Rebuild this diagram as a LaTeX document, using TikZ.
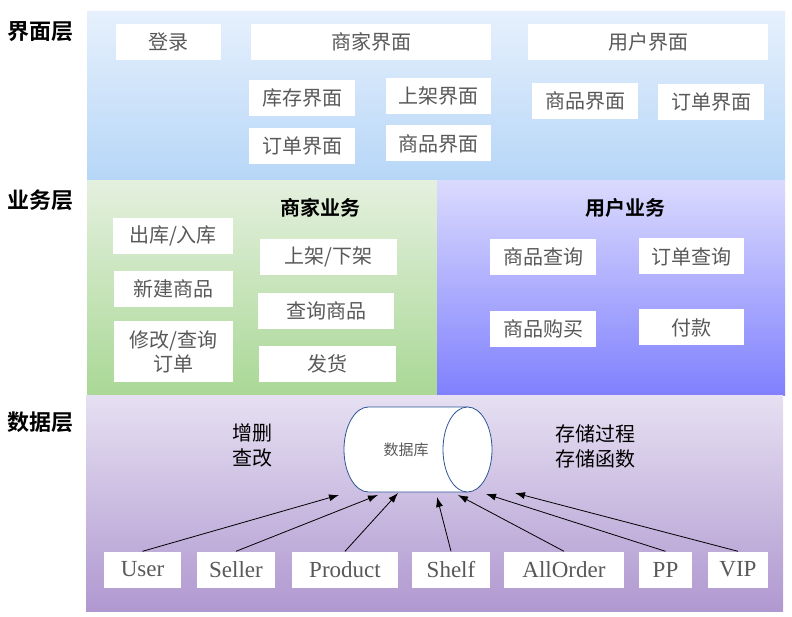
\documentclass[tikz,border=0pt]{standalone}
\usepackage{fontspec}
\newfontfamily\cjk{Noto Sans CJK SC}[BoldFont={Noto Sans CJK SC Bold}]
\newfontfamily\lserif{Liberation Serif}
\usetikzlibrary{arrows.meta}
\definecolor{boxtext}{HTML}{595959}
\definecolor{dbline}{HTML}{2F5597}

\begin{document}
\begin{tikzpicture}[x=1pt, y=-1pt]
        \tikzstyle{box} = [fill=white, text=boxtext, inner sep=0pt, minimum height=36pt, align=center, font=\cjk\fontsize{20}{24}\selectfont]
        \tikzstyle{ebox} = [box, font=\lserif\fontsize{23}{26}\selectfont]
        \tikzstyle{layerlbl} = [font=\cjk\bfseries\fontsize{22}{24}\selectfont]
        \tikzstyle{headlbl} = [font=\cjk\bfseries\fontsize{20}{22}\selectfont]
        \tikzstyle{notelbl} = [align=left, font=\cjk\fontsize{20}{25}\selectfont]
        \useasboundingbox (0,0) rectangle (792,617);
        % layers
        \shade[top color={rgb,255:red,230;green,240;blue,252}, bottom color={rgb,255:red,182;green,214;blue,247}] (87,12) rectangle (785,181);
        \shade[top color={rgb,255:red,228;green,240;blue,222}, bottom color={rgb,255:red,170;green,216;blue,150}] (87,181) rectangle (437,394);
        \shade[top color={rgb,255:red,218;green,218;blue,254}, bottom color={rgb,255:red,128;green,128;blue,254}] (437,181) rectangle (785,395);
        \shade[top color={rgb,255:red,230;green,224;blue,242}, bottom color={rgb,255:red,176;green,152;blue,208}] (86,395) rectangle (783,611);
        \node[layerlbl] (ljm) at (40,32) {界面层};
        \node[layerlbl] (lyw) at (40,200) {业务层};
        \node[layerlbl] (lsj) at (40,422) {数据层};
        % 界面层
        \node[box, minimum width=105pt] (login) at (168.5,42) {登录};
        \node[box, minimum width=240pt] (mjm) at (371,42) {商家界面};
        \node[box, minimum width=240pt] (ujm) at (648,42) {用户界面};
        \node[box, minimum width=106pt] (kcjm) at (302,98) {库存界面};
        \node[box, minimum width=106pt] (mddjm) at (302,146) {订单界面};
        \node[box, minimum width=105pt] (sjjm) at (438.5,96) {上架界面};
        \node[box, minimum width=105pt] (mspjm) at (438.5,143.5) {商品界面};
        \node[box, minimum width=106pt] (uspjm) at (585,101) {商品界面};
        \node[box, minimum width=106pt] (uddjm) at (711,102) {订单界面};
        % 业务层
        \node[headlbl] (myw) at (320,208) {商家业务};
        \node[headlbl] (uyw) at (625,208) {用户业务};
        \node[box, minimum width=120pt] (crk) at (173,236) {出库/入库};
        \node[box, minimum width=119pt] (xjsp) at (173.5,289) {新建商品};
        \node[box, minimum width=119pt, minimum height=61pt] (xgdd) at (173.5,351.5) {修改/查询\\订单};
        \node[box, minimum width=137pt] (sxj) at (328.5,257) {上架/下架};
        \node[box, minimum width=136pt] (cxsp) at (326,311) {查询商品};
        \node[box, minimum width=137pt] (fh) at (327.5,364) {发货};
        \node[box, minimum width=106pt] (spcx) at (543,257) {商品查询};
        \node[box, minimum width=105pt] (ddcx) at (691.5,256.5) {订单查询};
        \node[box, minimum width=106pt] (spgm) at (543,329) {商品购买};
        \node[box, minimum width=105pt] (fk) at (691.5,327.5) {付款};
        % 数据层
        \node[notelbl] (zscg) at (252,445) {增删\\查改};
        \node[notelbl] (ccgc) at (595,446) {存储过程\\存储函数};
        \fill[white] (368.5,492) arc[start angle=90, end angle=270, x radius=24.5, y radius=42.5] -- (467.5,407) -- (467.5,492) -- cycle;
        \draw[dbline, line width=0.8pt] (467.5,492) -- (368.5,492) arc[start angle=90, end angle=270, x radius=24.5, y radius=42.5] -- (467.5,407);
        \draw[dbline, line width=0.8pt, fill=white] (467.5,449.5) ellipse[x radius=24.5, y radius=42.5];
        \node[text=boxtext, font=\cjk\fontsize{15}{18}\selectfont] (db) at (406,450) {数据库};
        \node[ebox, minimum width=77pt] (user) at (142.5,569.5) {User};
        \node[ebox, minimum width=78pt] (seller) at (236,569.5) {Seller};
        \node[ebox, minimum width=106pt] (product) at (345,569.5) {Product};
        \node[ebox, minimum width=78pt] (shelf) at (451,569.5) {Shelf};
        \node[ebox, minimum width=120pt] (allorder) at (564,569.5) {AllOrder};
        \node[ebox, minimum width=53pt] (pp) at (665.5,569.5) {PP};
        \node[ebox, minimum width=60pt] (vip) at (738,569.5) {VIP};
        \coordinate (in1) at (339,495);
        \coordinate (in2) at (378,495);
        \coordinate (in3) at (398,493);
        \coordinate (in4) at (437,497);
        \coordinate (in5) at (458,495);
        \coordinate (in6) at (486,494);
        \coordinate (in7) at (515,493);
        \draw[->, >={Latex[length=10pt,width=7pt]}, line width=0.8pt] (user.north) -- (in1);
        \draw[->, >={Latex[length=10pt,width=7pt]}, line width=0.8pt] (seller.north) -- (in2);
        \draw[->, >={Latex[length=10pt,width=7pt]}, line width=0.8pt] (product.north) -- (in3);
        \draw[->, >={Latex[length=10pt,width=7pt]}, line width=0.8pt] (shelf.north) -- (in4);
        \draw[->, >={Latex[length=10pt,width=7pt]}, line width=0.8pt] (allorder.north) -- (in5);
        \draw[->, >={Latex[length=10pt,width=7pt]}, line width=0.8pt] (pp.north) -- (in6);
        \draw[->, >={Latex[length=10pt,width=7pt]}, line width=0.8pt] (vip.north) -- (in7);
      \end{tikzpicture}
\end{document}
